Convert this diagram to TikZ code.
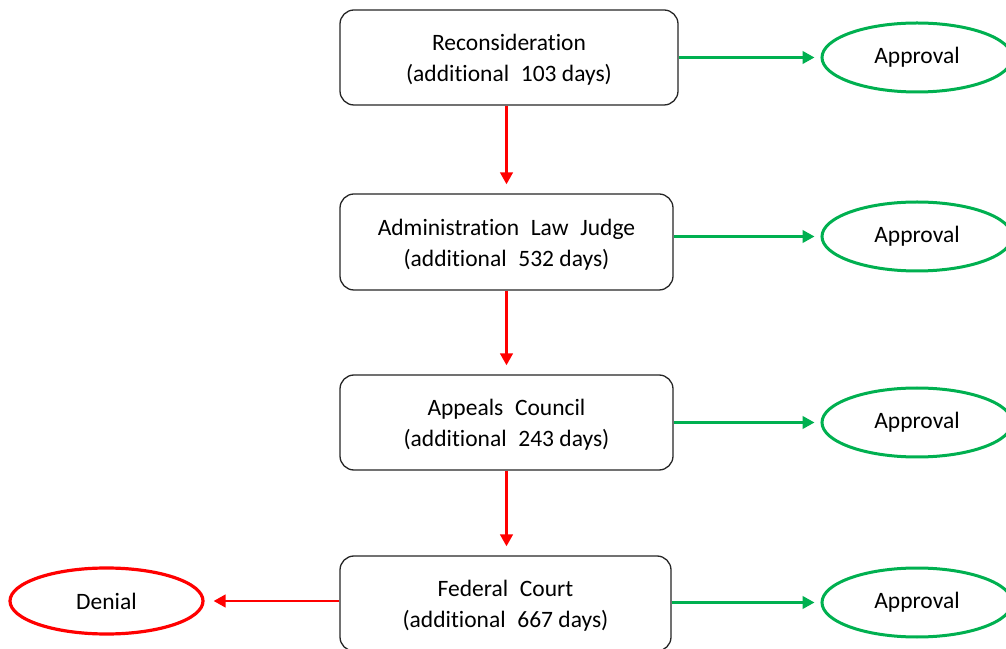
\documentclass[tikz,border=0pt]{standalone}
\usepackage{fontspec}
\setmainfont[Ligatures={NoCommon}]{Carlito}
\usetikzlibrary{shapes.geometric,arrows.meta}
\definecolor{okgreen}{RGB}{0,176,80}
\definecolor{nored}{RGB}{255,0,0}
\newcommand{\wsp}{\hspace{0.5em}}
\begin{document}
\begin{tikzpicture}[x=1pt,y=1pt,
  stage/.style={draw=black!85,line width=1.3pt,rounded corners=14pt,fill=white,
    align=center,inner sep=0pt,font=\fontsize{23.5}{31}\selectfont},
  yesnode/.style={ellipse,draw=okgreen,line width=3pt,inner sep=0pt,
    minimum width=190pt,minimum height=69pt,font=\fontsize{23.5}{28}\selectfont},
  nonode/.style={ellipse,draw=nored,line width=3.2pt,inner sep=0pt,
    minimum width=193pt,minimum height=66pt,font=\fontsize{23.5}{28}\selectfont},
  tip/.style={-{Triangle[length=12pt,width=12.5pt]},line width=2.7pt},
  down/.style={tip,draw=nored,shorten >=9pt},
  yes/.style={tip,draw=okgreen,shorten >=6pt},
  no/.style={tip,draw=nored,shorten >=9pt}]
\useasboundingbox (0,0) rectangle (1006,648);
\clip (0,0) rectangle (1006,648);

% process stages
\node[stage,minimum width=338pt,minimum height=95pt] (s1) at (509,590.5)
  {\strut Reconsideration\\(additional\wsp 103 days)};
\node[stage,minimum width=333pt,minimum height=96pt] (s2) at (506.5,406)
  {\strut Administration\wsp Law\wsp Judge\\(additional\wsp 532 days)};
\node[stage,minimum width=333pt,minimum height=95pt] (s3) at (506.5,225.5)
  {\strut Appeals\wsp Council\\(additional\wsp 243 days)};
\node[stage,minimum width=331pt,minimum height=95pt] (s4) at (505.5,44.5)
  {\strut Federal\wsp Court\\(additional\wsp 667 days)};

% outcomes
\node[yesnode] (a1) at (917,590.5) {Approval};
\node[yesnode] (a2) at (917,411.5) {Approval};
\node[yesnode] (a3) at (917,225.5) {Approval};
\node[yesnode] (a4) at (917,45.5) {Approval};
\node[nonode] (d) at (106.5,47) {Denial};

% escalation path
\draw[down] (s2.north |- s1.south) -- (s2.north);
\draw[down] (s2.south) -- (s3.north);
\draw[down] (s3.south) -- (s4.north -| s3.south);

% approvals at each stage
\draw[yes] (s1.east |- a1.west) -- (a1.west);
\draw[yes] (s2.east |- a2.west) -- (a2.west);
\draw[yes] (s3.east |- a3.west) -- (a3.west);
\draw[yes] (s4.east |- a4.west) -- (a4.west);

% final denial
\draw[no] (s4.west |- d.east) -- (d.east);
\end{tikzpicture}
\end{document}
